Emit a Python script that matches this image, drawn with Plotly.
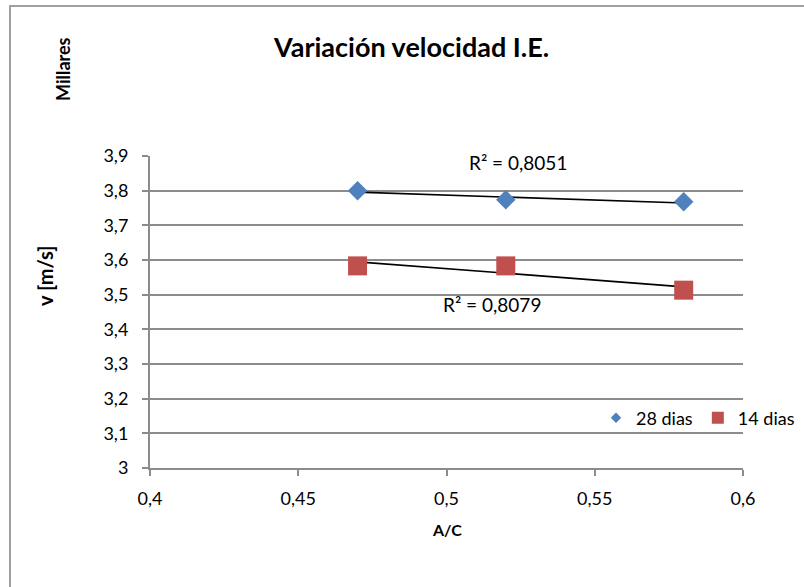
import numpy as np
import plotly.graph_objects as go

# ---- data ----
ac = [0.47, 0.52, 0.58]
v28 = [3.800, 3.774, 3.768]
v14 = [3.583, 3.583, 3.513]
r2_28 = "R² = 0,8051"
r2_14 = "R² = 0,8079"
y_ticks = [3.0, 3.1, 3.2, 3.3, 3.4, 3.5, 3.6, 3.7, 3.8, 3.9]
x_ticks = [0.4, 0.45, 0.5, 0.55, 0.6]

BLUE = "#4F81BD"
RED = "#C0504D"
GRID = "#8c8c8c"
FONT = "Lato"

W, H = 804, 587
L, R, T, B = 150, 61, 156, 119
pw, ph = W - L - R, H - T - B

def px(xp):
    return (xp - L) / pw

def py(yp):
    return (H - B - yp) / ph

fig = go.Figure()

# trendlines (linear fit from data)
for ys in (v28, v14):
    m, c = np.polyfit(ac, ys, 1)
    xs = [min(ac), max(ac)]
    fig.add_trace(go.Scatter(x=xs, y=[m * x + c for x in xs], mode="lines",
                             line=dict(color="black", width=1.6),
                             showlegend=False, hoverinfo="skip"))

fig.add_trace(go.Scatter(x=ac, y=v28, mode="markers", name="28 dias",
                         marker=dict(symbol="diamond", size=15, color=BLUE),
                         showlegend=False))
fig.add_trace(go.Scatter(x=ac, y=v14, mode="markers", name="14 dias",
                         marker=dict(symbol="square", size=19, color=RED),
                         showlegend=False))
# legend entries
fig.add_trace(go.Scatter(x=[None], y=[None], mode="markers", name="28 dias",
                         marker=dict(symbol="diamond", size=8, color=BLUE)))
fig.add_trace(go.Scatter(x=[None], y=[None], mode="markers", name="14 dias",
                         marker=dict(symbol="square", size=12, color=RED)))

axis_common = dict(showline=True, linecolor=GRID, linewidth=2, ticks="outside",
                   tickcolor=GRID, tickwidth=2, ticklen=6,
                   tickfont=dict(family=FONT, size=18, color="black"),
                   zeroline=False)

fig.update_xaxes(range=[0.4, 0.6], tickvals=x_ticks, showgrid=False,
                 ticklabelstandoff=7, **axis_common)
fig.update_yaxes(range=[3.0, 3.9], tickvals=y_ticks, showgrid=True,
                 gridcolor=GRID, gridwidth=2, ticklabelstandoff=10, **axis_common)

annotations = [
    dict(text="<b>Variación velocidad I.E.</b>", x=px(411), y=py(47),
         font=dict(size=27, family=FONT, color="black")),
    dict(text="<b>Millares</b>", x=px(63), y=py(69), textangle=-90,
         font=dict(size=18, family=FONT, color="black")),
    dict(text="<b>v [m/s]</b>", x=px(45), y=py(276), textangle=-90,
         font=dict(size=20, family=FONT, color="black")),
    dict(text="<b>A/C</b>", x=px(447), y=py(529),
         font=dict(size=16, family=FONT, color="black")),
    dict(text=r2_28, x=px(518), y=py(162),
         font=dict(size=19, family=FONT, color="black")),
    dict(text=r2_14, x=px(492), y=py(304),
         font=dict(size=19, family=FONT, color="black")),
]
for a in annotations:
    a.update(xref="paper", yref="paper", showarrow=False,
             xanchor="center", yanchor="middle")

fig.update_layout(
    width=W, height=H,
    margin=dict(l=L, r=R, t=T, b=B, autoexpand=False),
    paper_bgcolor="white", plot_bgcolor="white",
    separators=", ",
    annotations=annotations,
    legend=dict(orientation="h", x=px(800), xanchor="right", y=py(418),
                yanchor="middle", font=dict(family=FONT, size=18, color="black"),
                bgcolor="rgba(0,0,0,0)", itemwidth=30, tracegroupgap=0),
    shapes=[dict(type="rect", xref="paper", yref="paper",
                 x0=px(10), x1=px(830), y0=py(620), y1=py(6),
                 line=dict(color="#a0a0a0", width=2), layer="below")],
)

fig.write_html("out.html")
